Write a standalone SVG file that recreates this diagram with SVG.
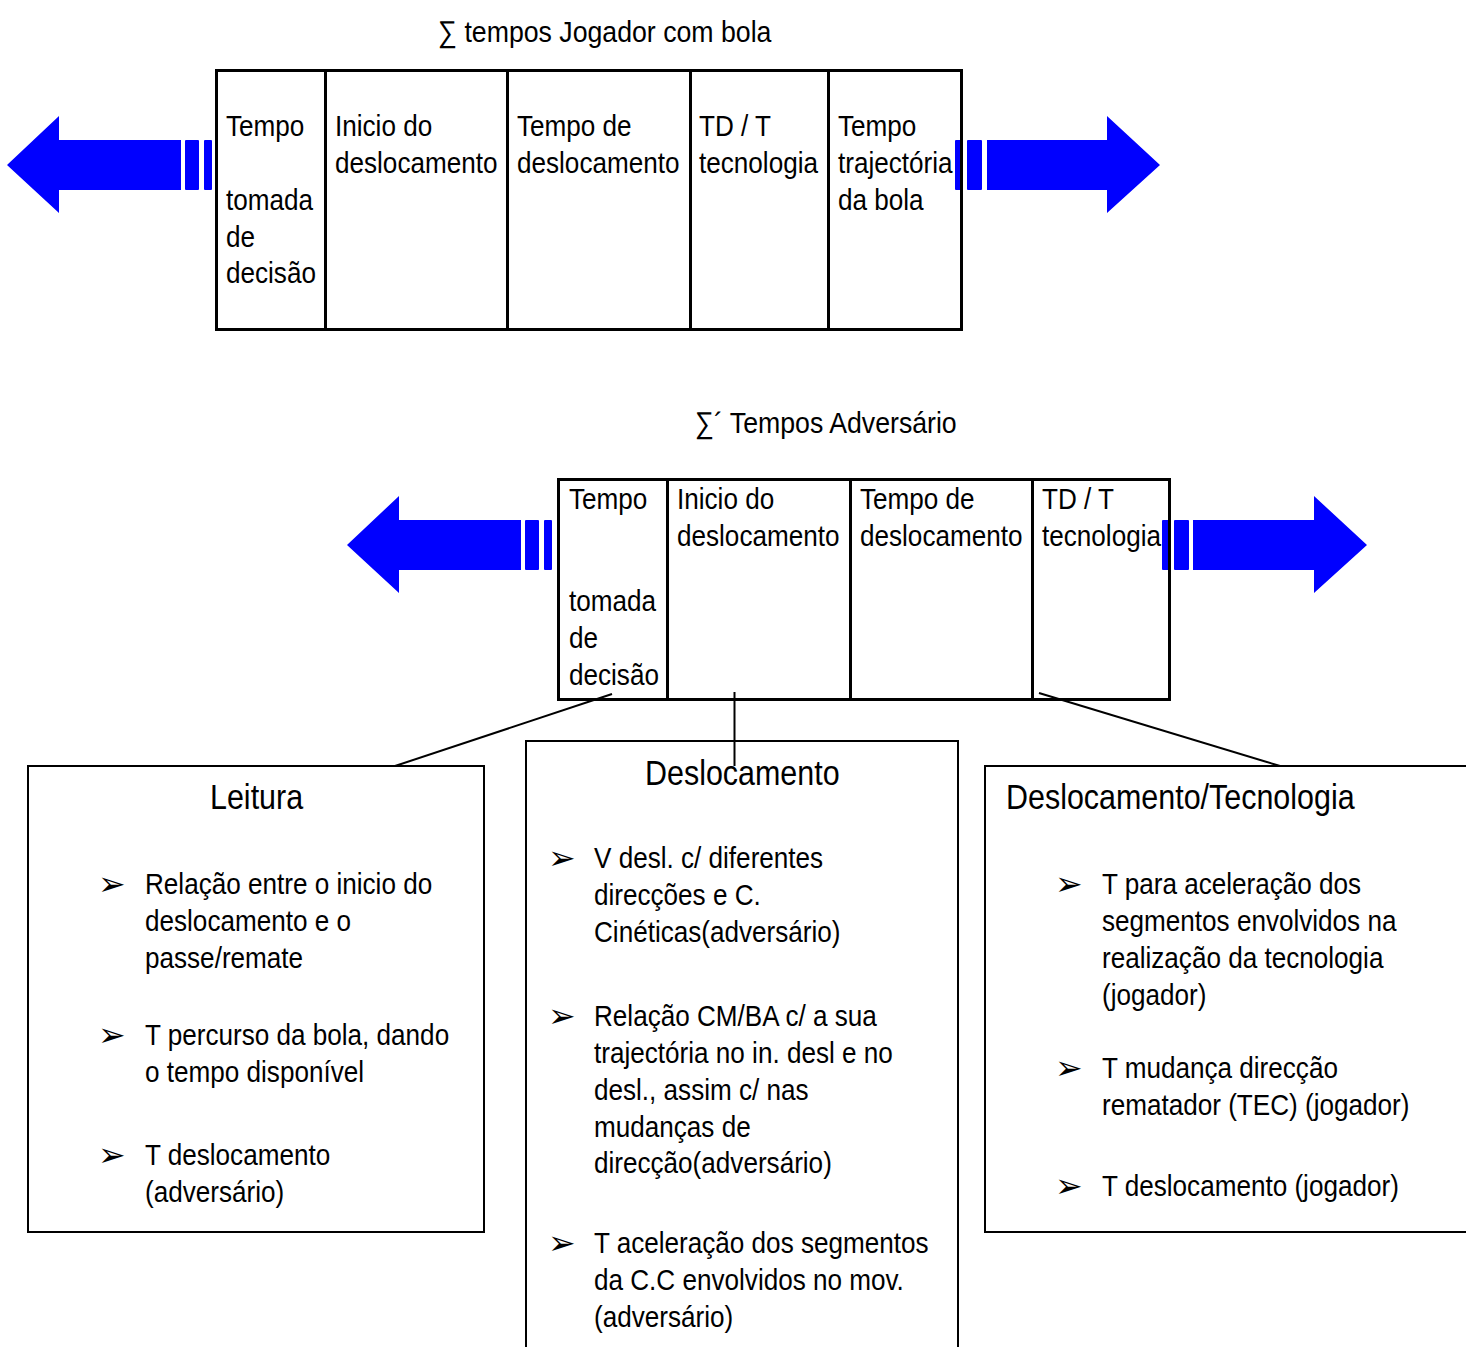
<svg xmlns="http://www.w3.org/2000/svg" width="1466" height="1347" viewBox="0 0 1466 1347">
<style>
.t{font-family:"Liberation Sans",Arial,sans-serif;font-size:30px;fill:#000}
.b{font-family:"Liberation Sans",Arial,sans-serif;font-size:30px;fill:#000}
.h{font-family:"Liberation Sans",Arial,sans-serif;font-size:35px;fill:#000}
.bl{font-family:"DejaVu Sans",sans-serif;font-size:33px;fill:#000}
.arr{fill:#0000ff}
.tbl{fill:none;stroke:#000;stroke-width:3}
.box{fill:none;stroke:#000;stroke-width:2}
.con{stroke:#000;stroke-width:2;fill:none}
</style>
<rect width="1466" height="1347" fill="#fff"/>

<g id="arrows-top">
<polygon class="arr" points="7,165 59,116 59,140 181,140 181,190 59,190 59,213"/>
<rect class="arr" x="185" y="140" width="14" height="50" rx="1"/>
<rect class="arr" x="204" y="140" width="8" height="50" rx="1"/>
<rect class="arr" x="955" y="140" width="8" height="50" rx="1"/>
<rect class="arr" x="967" y="140" width="15" height="50" rx="1"/>
<polygon class="arr" points="987,140 1107,140 1107,116 1160,165 1107,213 1107,190 987,190"/>
</g>
<g id="arrows-bottom">
<polygon class="arr" points="347,545 399,496 399,520 521,520 521,570 399,570 399,593"/>
<rect class="arr" x="525" y="520" width="14" height="50" rx="1"/>
<rect class="arr" x="544" y="520" width="8" height="50" rx="1"/>
<rect class="arr" x="1162" y="520" width="8" height="50" rx="1"/>
<rect class="arr" x="1174" y="520" width="15" height="50" rx="1"/>
<polygon class="arr" points="1193,520 1314,520 1314,496 1367,545 1314,593 1314,570 1193,570"/>
</g>

<text class="t" transform="translate(438,42) scale(0.89 1)">∑ tempos Jogador com bola</text>
<text class="t" transform="translate(695,433) scale(0.89 1)">∑´ Tempos Adversário</text>

<g id="table-top">
<rect class="tbl" x="216.5" y="70.5" width="745" height="259"/>
<line class="tbl" x1="325.5" y1="70" x2="325.5" y2="330"/>
<line class="tbl" x1="507.5" y1="70" x2="507.5" y2="330"/>
<line class="tbl" x1="690.5" y1="70" x2="690.5" y2="330"/>
<line class="tbl" x1="828.5" y1="70" x2="828.5" y2="330"/>
<text class="t" transform="translate(226,0) scale(0.87 1)"><tspan x="0" y="136">Tempo</tspan><tspan x="0" y="210">tomada</tspan><tspan x="0" y="247">de</tspan><tspan x="0" y="283">decisão</tspan></text>
<text class="t" transform="translate(335,0) scale(0.87 1)"><tspan x="0" y="136">Inicio do</tspan><tspan x="0" y="173">deslocamento</tspan></text>
<text class="t" transform="translate(517,0) scale(0.87 1)"><tspan x="0" y="136">Tempo de</tspan><tspan x="0" y="173">deslocamento</tspan></text>
<text class="t" transform="translate(699,0) scale(0.87 1)"><tspan x="0" y="136">TD / T</tspan><tspan x="0" y="173">tecnologia</tspan></text>
<text class="t" transform="translate(838,0) scale(0.87 1)"><tspan x="0" y="136">Tempo</tspan><tspan x="0" y="173">trajectória</tspan><tspan x="0" y="210">da bola</tspan></text>
</g>

<g id="table-bottom">
<rect class="tbl" x="558.5" y="479.5" width="611" height="220"/>
<line class="tbl" x1="667.5" y1="479" x2="667.5" y2="700"/>
<line class="tbl" x1="850.5" y1="479" x2="850.5" y2="700"/>
<line class="tbl" x1="1032.5" y1="479" x2="1032.5" y2="700"/>
<text class="t" transform="translate(569,0) scale(0.87 1)"><tspan x="0" y="509">Tempo</tspan><tspan x="0" y="611">tomada</tspan><tspan x="0" y="648">de</tspan><tspan x="0" y="685">decisão</tspan></text>
<text class="t" transform="translate(677,0) scale(0.87 1)"><tspan x="0" y="509">Inicio do</tspan><tspan x="0" y="546">deslocamento</tspan></text>
<text class="t" transform="translate(860,0) scale(0.87 1)"><tspan x="0" y="509">Tempo de</tspan><tspan x="0" y="546">deslocamento</tspan></text>
<text class="t" transform="translate(1042,0) scale(0.87 1)"><tspan x="0" y="509">TD / T</tspan><tspan x="0" y="546">tecnologia</tspan></text>
</g>

<g id="connectors">
<line class="con" x1="612" y1="694" x2="395" y2="766"/>
<line class="con" x1="734.5" y1="692" x2="734.5" y2="766"/>
<line class="con" x1="1039" y1="693" x2="1280" y2="766"/>
</g>

<g id="box-leitura">
<rect class="box" x="28" y="766" width="456" height="466"/>
<text class="h" transform="translate(210,809) scale(0.87 1)">Leitura</text>
<text class="bl" x="98" y="895">➢</text>
<text class="bl" x="98" y="1046">➢</text>
<text class="bl" x="98" y="1166">➢</text>
<text class="b" transform="translate(145,0) scale(0.87 1)"><tspan x="0" y="894">Relação entre o inicio do</tspan><tspan x="0" y="931">deslocamento e o</tspan><tspan x="0" y="968">passe/remate</tspan><tspan x="0" y="1045">T percurso da bola, dando</tspan><tspan x="0" y="1082">o tempo disponível</tspan><tspan x="0" y="1165">T deslocamento</tspan><tspan x="0" y="1202">(adversário)</tspan></text>
</g>

<g id="box-deslocamento">
<rect class="box" x="526" y="741" width="432" height="620"/>
<text class="h" transform="translate(645,785) scale(0.87 1)">Deslocamento</text>
<text class="bl" x="548" y="869">➢</text>
<text class="bl" x="548" y="1027">➢</text>
<text class="bl" x="548" y="1254">➢</text>
<text class="b" transform="translate(594,0) scale(0.87 1)"><tspan x="0" y="868">V desl. c/ diferentes</tspan><tspan x="0" y="905">direcções e C.</tspan><tspan x="0" y="942">Cinéticas(adversário)</tspan><tspan x="0" y="1026">Relação CM/BA c/ a sua</tspan><tspan x="0" y="1063">trajectória no in. desl e no</tspan><tspan x="0" y="1100">desl., assim c/ nas</tspan><tspan x="0" y="1137">mudanças de</tspan><tspan x="0" y="1173">direcção(adversário)</tspan><tspan x="0" y="1253">T aceleração dos segmentos</tspan><tspan x="0" y="1290">da C.C envolvidos no mov.</tspan><tspan x="0" y="1327">(adversário)</tspan></text>
</g>

<g id="box-tecnologia">
<rect class="box" x="985" y="766" width="490" height="466"/>
<text class="h" transform="translate(1006,809) scale(0.87 1)">Deslocamento/Tecnologia</text>
<text class="bl" x="1055" y="895">➢</text>
<text class="bl" x="1055" y="1079">➢</text>
<text class="bl" x="1055" y="1197">➢</text>
<text class="b" transform="translate(1102,0) scale(0.87 1)"><tspan x="0" y="894">T para aceleração dos</tspan><tspan x="0" y="931">segmentos envolvidos na</tspan><tspan x="0" y="968">realização da tecnologia</tspan><tspan x="0" y="1005">(jogador)</tspan><tspan x="0" y="1078">T mudança direcção</tspan><tspan x="0" y="1115">rematador (TEC) (jogador)</tspan><tspan x="0" y="1196">T deslocamento (jogador)</tspan></text>
</g>
</svg>
